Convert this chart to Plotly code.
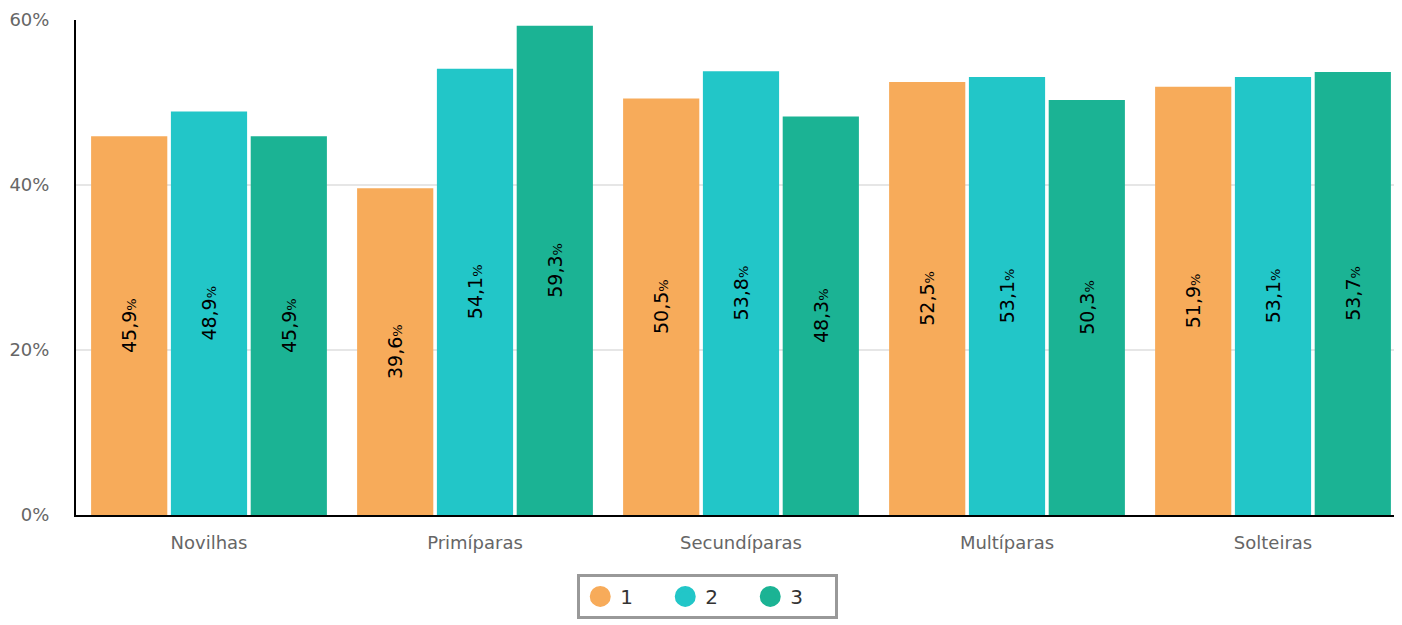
import plotly.graph_objects as go

categories = ["Novilhas", "Primíparas", "Secundíparas", "Multíparas", "Solteiras"]
series_names = ["1", "2", "3"]
values_1 = [45.9, 39.6, 50.5, 52.5, 51.9]
values_2 = [48.9, 54.1, 53.8, 53.1, 53.1]
values_3 = [45.9, 59.3, 48.3, 50.3, 53.7]
y_ticks = [0, 20, 40, 60]
colors = ["#f7ab5a", "#22c6c8", "#1bb394"]

FONT = "DejaVu Sans"


def label(v):
    return "%s<span style='font-size:13px'>%%</span>" % ("%.1f" % v).replace(".", ",")


fig = go.Figure()
for name, vals, col in zip(series_names, [values_1, values_2, values_3], colors):
    fig.add_trace(go.Bar(
        x=categories, y=vals, name=name,
        marker=dict(color=col, line=dict(width=0)),
        text=[label(v) for v in vals],
        textposition="inside", insidetextanchor="middle",
        textangle=-90,
        textfont=dict(family=FONT, size=19, color="#000000"),
        showlegend=False,
    ))
    # circle legend entries
    fig.add_trace(go.Scatter(
        x=[None], y=[None], mode="markers", name=name,
        marker=dict(color=col, size=16, symbol="circle", line=dict(color=col, width=5)),
        showlegend=True,
    ))

fig.update_layout(
    width=1398, height=617,
    margin=dict(l=68, r=0, t=12, b=110),
    paper_bgcolor="white", plot_bgcolor="white",
    barmode="group", bargap=0.1, bargroupgap=0.045,
    font=dict(family=FONT, size=16, color="#666666"),
    uniformtext=dict(mode=False),
    xaxis=dict(
        showline=True, linecolor="black", linewidth=2,
        tickfont=dict(size=18, color="#666666"),
        ticks="", showgrid=False, ticklabelstandoff=10,
    ),
    yaxis=dict(
        range=[0, 60], tickmode="array", tickvals=y_ticks,
        ticktext=["%d%%" % t for t in y_ticks],
        showline=True, linecolor="black", linewidth=2,
        gridcolor="#e6e6e6", gridwidth=2, zeroline=False,
        tickfont=dict(size=18, color="#666666"),
        ticks="", ticklabelstandoff=21,
    ),
    legend=dict(
        orientation="h", x=0.475, xanchor="center", y=-0.119, yanchor="top",
        bordercolor="#999999", borderwidth=3,
        font=dict(size=20, color="#333333"),
        entrywidth=40,
    ),
)

fig.write_html("out.html")
